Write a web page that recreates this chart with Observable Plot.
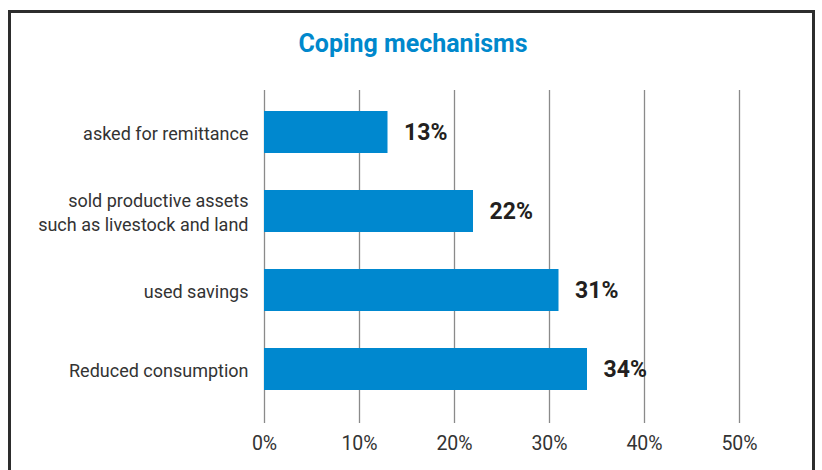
<!DOCTYPE html>
<html>
<head>
<meta charset="utf-8">
<script src="https://cdn.jsdelivr.net/npm/d3@7"></script>
<script src="https://cdn.jsdelivr.net/npm/@observablehq/plot@0.6"></script>
<style>
  html, body { margin: 0; padding: 0; background: #fff; width: 822px; height: 470px; overflow: hidden; position: relative; }
  #frame { position: absolute; left: 8px; top: 10px; width: 801px; height: 520px; border: 3px solid #2d2d2d; }
  #title { position: absolute; left: 0; width: 826px; top: 28px; text-align: center; font-family: Roboto, sans-serif; font-weight: bold; font-size: 25px; color: #0088cc; line-height: 32px; }
  #chart { position: absolute; left: 0; top: 70px; }
</style>
</head>
<body>
<div id="frame"></div>
<div id="title">Coping mechanisms</div>
<div id="chart"></div>
<script>
const categories = [
  "asked for remittance",
  "sold productive assets\nsuch as livestock and land",
  "used savings",
  "Reduced consumption"
];
const values = [13, 22, 31, 34];
const xTicks = [0, 10, 20, 30, 40, 50];

const data = categories.map((c, i) => ({category: c, value: values[i]}));
const pct = d => d + "%";

const chart = Plot.plot({
  width: 822,
  height: 400,
  marginLeft: 264,
  marginRight: 83,
  marginTop: 3,
  marginBottom: 43,
  style: {fontFamily: "Roboto, sans-serif", fontSize: "18px", background: "transparent"},
  x: {domain: [0, 50], ticks: xTicks, tickFormat: pct, label: null},
  y: {domain: categories, padding: 0.474, label: null},
  marks: [
    Plot.gridX(xTicks, {stroke: "#8a8a8a", strokeOpacity: 1, strokeWidth: 1.3, insetTop: 17, insetBottom: 4}),
    Plot.barX(data, {x: "value", y: "category", fill: "#0088cf"}),
    Plot.text(data, {x: "value", y: "category", text: d => pct(d.value), dx: 16, textAnchor: "start", fontSize: 23, fontWeight: "bold", fill: "#231f20"}),
    Plot.axisX({ticks: xTicks, tickFormat: pct, tickSize: 0, tickPadding: 9, fontSize: 19.5, fill: "#333", label: null}),
    Plot.axisY({tickSize: 0, tickPadding: 16, fontSize: 18, lineHeight: 1.3, fill: "#333", label: null})
  ]
});
document.getElementById("chart").appendChild(chart);
</script>
</body>
</html>
